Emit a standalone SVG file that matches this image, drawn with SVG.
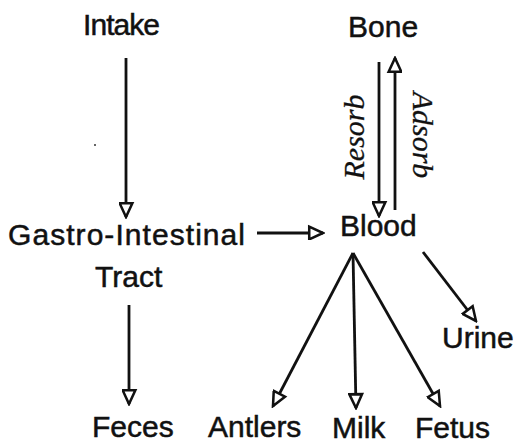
<svg xmlns="http://www.w3.org/2000/svg" width="519" height="443" viewBox="0 0 519 443">
<style>
.lbl{font-family:"Liberation Sans",Arial,sans-serif;font-size:30px;fill:#111;stroke:#111;stroke-width:0.5}
.rot{font-family:"Liberation Serif","Times New Roman",serif;font-style:italic;font-size:30px;fill:#111;stroke:#111;stroke-width:0.3}
.edge{stroke:#111;stroke-width:2.8;fill:none;marker-end:url(#ah)}
</style>
<defs>
<marker id="ah" markerUnits="userSpaceOnUse" markerWidth="18" markerHeight="16" viewBox="-2 -2 17 15" refX="13" refY="6" orient="auto">
<path d="M0,0 L13,6 L0,12 Z" fill="#fff" stroke="#111" stroke-width="2.4" stroke-linejoin="miter"/>
</marker>
</defs>
<rect width="519" height="443" fill="#fff"/>
<g id="connectors">
<line class="edge" x1="126" y1="58" x2="126" y2="217"/>
<line class="edge" x1="257" y1="233" x2="323" y2="233"/>
<line class="edge" x1="379" y1="62" x2="379" y2="216"/>
<line class="edge" x1="395" y1="210" x2="395" y2="58"/>
<line class="edge" x1="129" y1="305" x2="129" y2="404"/>
<line class="edge" x1="353" y1="253" x2="273" y2="406"/>
<line class="edge" x1="353" y1="253" x2="356" y2="408"/>
<line class="edge" x1="353" y1="253" x2="440" y2="406"/>
<line class="edge" x1="423" y1="252" x2="476" y2="321"/>
<text class="rot" text-anchor="middle" transform="translate(364,137) rotate(-90)">Resorb</text>
<text class="rot" text-anchor="middle" transform="translate(413,135) rotate(90)">Adsorb</text>
</g>
<g id="intake"><text class="lbl" x="83" y="35" textLength="77">Intake</text></g>
<g id="bone"><text class="lbl" x="348" y="37">Bone</text></g>
<g id="gi"><text class="lbl" x="8" y="245" textLength="237">Gastro-Intestinal</text><text class="lbl" x="95" y="287">Tract</text></g>
<g id="blood"><text class="lbl" x="340" y="236">Blood</text></g>
<g id="urine"><text class="lbl" x="442" y="348">Urine</text></g>
<g id="feces"><text class="lbl" x="92" y="437">Feces</text></g>
<g id="antlers"><text class="lbl" x="208" y="437">Antlers</text></g>
<g id="milk"><text class="lbl" x="332" y="438">Milk</text></g>
<g id="fetus"><text class="lbl" x="415" y="438">Fetus</text></g>
<circle cx="95" cy="145" r="1" fill="#333"/>
</svg>
